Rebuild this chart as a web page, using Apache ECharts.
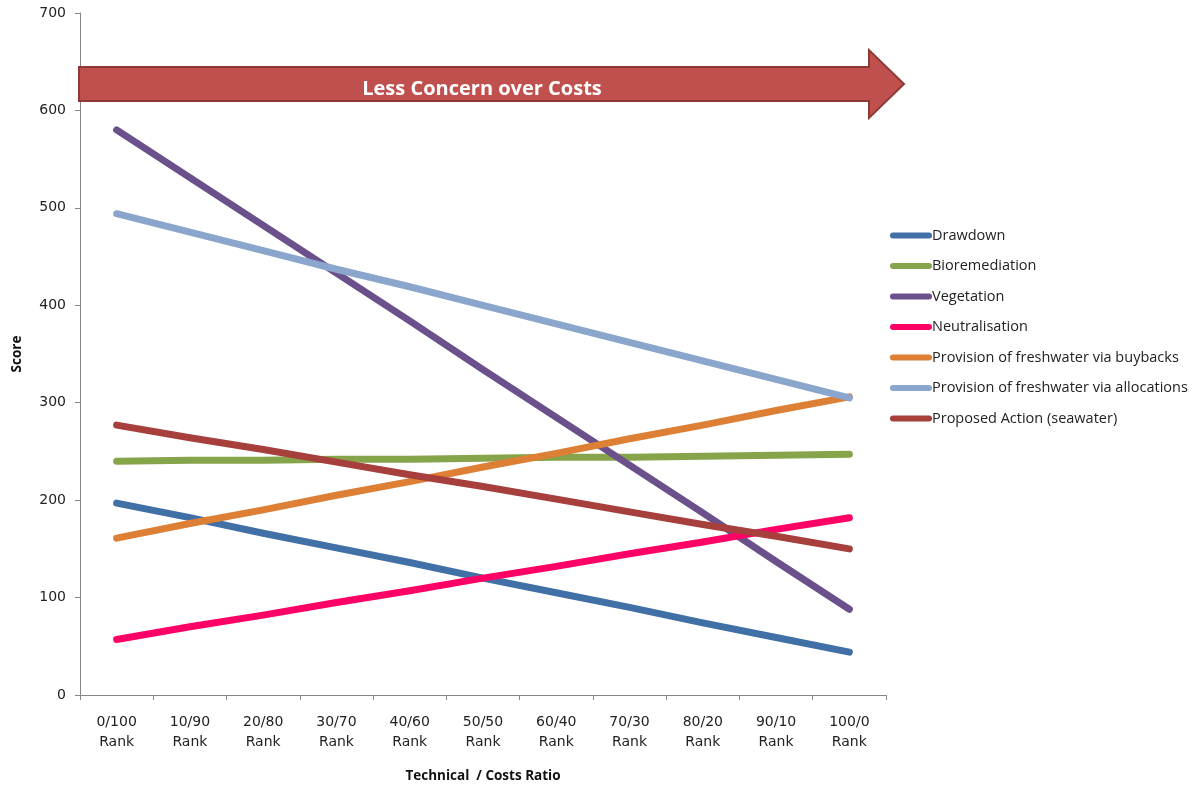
<!DOCTYPE html>
<html>
<head>
<meta charset="utf-8">
<script src="https://cdn.jsdelivr.net/npm/echarts@6/dist/echarts.min.js"></script>
<style>
  html, body { margin: 0; padding: 0; background: #fff; }
  #chart { width: 1203px; height: 789px; }
</style>
</head>
<body>
<div id="chart"></div>
<script>
// categories along x
const categories = ["0/100\nRank", "10/90\nRank", "20/80\nRank", "30/70\nRank", "40/60\nRank",
    "50/50\nRank", "60/40\nRank", "70/30\nRank", "80/20\nRank", "90/10\nRank", "100/0\nRank"];

// scores
const drawdown = [197, 182, 166, 151, 136, 120, 105, 90, 74, 59, 44];
const bioremediation = [240, 241, 241, 242, 242, 243, 244, 244, 245, 246, 247];
const vegetation = [580, 531, 482, 433, 384, 334, 285, 236, 187, 137, 88];
const neutralisation = [57, 70, 82, 95, 107, 120, 132, 145, 157, 170, 182];
const buybacks = [161, 176, 190, 205, 219, 234, 248, 263, 277, 292, 306];
const allocations = [494, 475, 456, 437, 419, 400, 381, 362, 343, 324, 305];
const proposed = [277, 264, 252, 239, 226, 214, 201, 188, 175, 163, 150];

const seriesDefs = [
    { name: "Drawdown", data: drawdown, color: "#4170a6" },
    { name: "Bioremediation", data: bioremediation, color: "#86a44a" },
    { name: "Vegetation", data: vegetation, color: "#6a518c" },
    { name: "Neutralisation", data: neutralisation, color: "#ff0066" },
    { name: "Provision of freshwater via buybacks", data: buybacks, color: "#dd7f34" },
    { name: "Provision of freshwater via allocations", data: allocations, color: "#8aa6cd" },
    { name: "Proposed Action (seawater)", data: proposed, color: "#a7403c" }
];

const axisColor = "#868686";
const textColor = "#222";

const chart = echarts.init(document.getElementById("chart"));

const option = {
    backgroundColor: "#fff",
    animation: false,
    grid: { left: 80, right: 317, top: 13, bottom: 94, containLabel: false },
    legend: {
        orient: "vertical",
        left: 885,
        top: 223,
        itemWidth: 42,
        itemHeight: 6,
        itemGap: 15.5,
        icon: "path://M3,0 L39,0 A3,3 0 0 1 39,6 L3,6 A3,3 0 0 1 3,0 Z",
        textStyle: { fontFamily: "Open Sans", fontSize: 14.5, color: textColor, padding: [0, 0, 0, -5] },
        data: seriesDefs.map(s => s.name)
    },
    xAxis: {
        type: "category",
        data: categories,
        boundaryGap: true,
        axisLine: { lineStyle: { color: axisColor, width: 1 } },
        axisTick: { show: true, interval: 0, length: 5, lineStyle: { color: axisColor } },
        axisLabel: {
            interval: 0,
            margin: 17,
            lineHeight: 20,
            fontFamily: "DejaVu Sans",
            fontSize: 14,
            color: textColor
        },
        splitLine: { show: false },
        name: "Technical  / Costs Ratio",
        nameLocation: "middle",
        nameGap: 74,
        nameTextStyle: { fontFamily: "Open Sans", fontWeight: "bold", fontSize: 13.5, color: "#111" }
    },
    yAxis: {
        type: "value",
        min: 0,
        max: 700,
        interval: 100,
        axisLine: { show: true, lineStyle: { color: axisColor, width: 1 } },
        axisTick: { show: true, length: 5, lineStyle: { color: axisColor } },
        axisLabel: { margin: 14, fontFamily: "DejaVu Sans", fontSize: 14, color: textColor },
        splitLine: { show: false },
        name: "Score",
        nameLocation: "middle",
        nameGap: 56,
        nameRotate: 90,
        nameTextStyle: { fontFamily: "Open Sans", fontWeight: "bold", fontSize: 13.5, color: "#111" }
    },
    series: seriesDefs.map(s => ({
        name: s.name,
        type: "line",
        data: s.data,
        showSymbol: false,
        symbol: "none",
        smooth: false,
        color: s.color,
        lineStyle: { width: 7, color: s.color, cap: "round", join: "round" }
    })),
    graphic: [
        {
            type: "polygon",
            shape: {
                points: [[79, 67], [869, 67], [869, 50], [904, 84], [869, 118], [869, 101], [79, 101]]
            },
            style: { fill: "#c0504d", stroke: "#8d3a37", lineWidth: 2 },
            z: 100
        },
        {
            type: "text",
            x: 482,
            y: 89,
            style: {
                text: "Less Concern over Costs",
                fill: "#fff",
                font: "bold 20px 'Open Sans'",
                align: "center",
                verticalAlign: "middle"
            },
            z: 101
        }
    ]
};

chart.setOption(option);
</script>
</body>
</html>
